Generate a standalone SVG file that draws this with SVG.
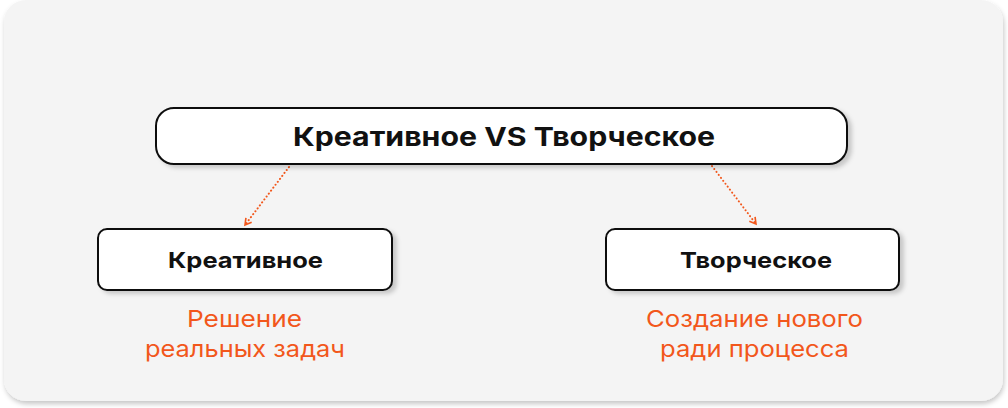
<svg xmlns="http://www.w3.org/2000/svg" width="1008" height="408" viewBox="0 0 1008 408">
  <defs>
    <filter id="panelShadow" x="-5%" y="-5%" width="110%" height="115%">
      <feDropShadow dx="1" dy="3" stdDeviation="2.5" flood-color="#000" flood-opacity="0.22"/>
    </filter>
    <filter id="boxShadow" x="-5%" y="-20%" width="110%" height="150%">
      <feDropShadow dx="4" dy="3" stdDeviation="2" flood-color="#000" flood-opacity="0.18"/>
    </filter>
    <marker id="arrow" viewBox="0 0 10 10" refX="8" refY="5" markerWidth="9" markerHeight="9" markerUnits="userSpaceOnUse" orient="auto">
      <path d="M1,1 L8,5 L1,9" fill="none" stroke="#f2571b" stroke-width="1.8" stroke-linejoin="miter"/>
    </marker>
    <style>
      .box { fill: #ffffff; stroke: #111111; stroke-width: 2; }
      .title { font-family: "Inter", "Noto Sans", "Liberation Sans", sans-serif; font-weight: 700; fill: #111111; text-anchor: middle; }
      .note { font-family: "Inter", "Noto Sans", "Liberation Sans", sans-serif; font-weight: 400; fill: #f2571b; text-anchor: middle; font-size: 23px; }
      .conn { fill: none; stroke: #f2571b; stroke-width: 2; stroke-dasharray: 0.1 3.6; stroke-linecap: round; }
    </style>
  </defs>
  <rect x="0" y="0" width="1008" height="408" fill="#ffffff"/>
  <rect x="4" y="0" width="999" height="401" rx="22" fill="#f4f4f4" filter="url(#panelShadow)"/>

  <g id="connectors">
    <line class="conn" x1="289" y1="167" x2="245" y2="225" marker-end="url(#arrow)"/>
    <line class="conn" x1="712" y1="166" x2="756" y2="224" marker-end="url(#arrow)"/>
  </g>

  <g id="node-main">
    <rect class="box" x="156" y="108" width="691" height="56" rx="18" filter="url(#boxShadow)"/>
    <text class="title" x="504" y="146" font-size="26" textLength="422" lengthAdjust="spacingAndGlyphs">Креативное VS Творческое</text>
  </g>

  <g id="node-creative">
    <rect class="box" x="98" y="229" width="294" height="61" rx="9" filter="url(#boxShadow)"/>
    <text class="title" x="245.5" y="268" font-size="22" textLength="155" lengthAdjust="spacingAndGlyphs">Креативное</text>
  </g>

  <g id="node-creative-note">
    <text class="note" x="244.5" y="327" textLength="115" lengthAdjust="spacingAndGlyphs">Решение</text>
    <text class="note" x="245" y="357" textLength="200" lengthAdjust="spacingAndGlyphs">реальных задач</text>
  </g>

  <g id="node-tvorcheskoe">
    <rect class="box" x="606" y="229" width="293" height="61" rx="9" filter="url(#boxShadow)"/>
    <text class="title" x="756" y="268" font-size="22" textLength="152" lengthAdjust="spacingAndGlyphs">Творческое</text>
  </g>

  <g id="node-tvorcheskoe-note">
    <text class="note" x="754.5" y="327" textLength="217" lengthAdjust="spacingAndGlyphs">Создание нового</text>
    <text class="note" x="754.5" y="357" textLength="189" lengthAdjust="spacingAndGlyphs">ради процесса</text>
  </g>
</svg>
